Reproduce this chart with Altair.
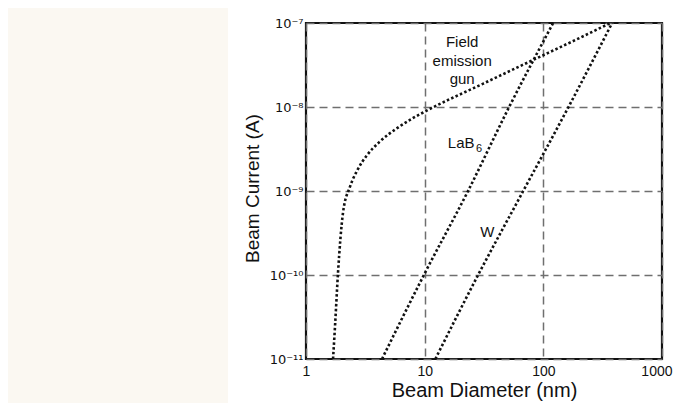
import altair as alt
import pandas as pd

# Field emission gun curve (beam diameter nm, beam current A)
feg_d = [1.69, 1.76, 1.86, 2.05, 2.35, 2.69, 3.27, 4.21, 5.86, 8.0, 10.0, 31.2, 77.6, 205, 367]
feg_i = [1.0e-11, 2.6e-11, 1.05e-10, 5.5e-10, 1.13e-9, 1.74e-9, 2.67e-9, 3.9e-9, 5.6e-9, 7.4e-9, 8.8e-9,
         1.9e-8, 3.5e-8, 6.7e-8, 1.0e-7]
# LaB6 source
lab6_d = [4.37, 9.85, 23.2, 51.5, 121]
lab6_i = [1e-11, 1e-10, 1e-9, 1e-8, 1e-7]
# Tungsten source
w_d = [12.3, 28.2, 67.7, 163, 380]
w_i = [1e-11, 1e-10, 1e-9, 1e-8, 1e-7]

x_ticks = [1, 10, 100, 1000]
y_ticks = [1e-11, 1e-10, 1e-9, 1e-8, 1e-7]
y_tick_labels = ["10\u207b\u00b9\u00b9", "10\u207b\u00b9\u2070", "10\u207b\u2079", "10\u207b\u2078", "10\u207b\u2077"]

label_text = ["Field", "emission", "gun", "LaB", "W"]
label_x = [20.7, 20.7, 20.7, 20.3, 33.7]
label_y = [5.9e-8, 3.5e-8, 2.15e-8, 3.7e-9, 3.25e-10]
sub_text = ["6"]
sub_x = [28.8]
sub_y = [3.2e-9]

rows = []
for name, ds, cs in [("FEG", feg_d, feg_i), ("LaB6", lab6_d, lab6_i), ("W", w_d, w_i)]:
    for k, (d, c) in enumerate(zip(ds, cs)):
        rows.append({"source": name, "d": d, "i": c, "order": k})
curves = pd.DataFrame(rows)
labels = pd.DataFrame({"text": label_text, "d": label_x, "i": label_y})
subs = pd.DataFrame({"text": sub_text, "d": sub_x, "i": sub_y})

ylab_expr = " : ".join(
    f"abs(log(datum.value)/LN10 - ({e})) < 0.01 ? '{t}'" for e, t in zip([-11, -10, -9, -8, -7], y_tick_labels)
) + " : ''"

xscale = alt.Scale(type="log", domain=[1, 1000], nice=False)
yscale = alt.Scale(type="log", domain=[1e-11, 1e-7], nice=False)

xaxis = alt.Axis(values=x_ticks, labelExpr="format(datum.value, 'd')", title="Beam Diameter (nm)",
                 grid=True, gridDash=[8, 5], gridColor="#6f6f6f", gridWidth=1.5, ticks=False, domain=False,
                 labelFontSize=14, labelColor="#111", labelPadding=5, labelFlush=False,
                 labelAlign={"condition": {"test": "datum.value >= 999", "value": "right"}, "value": "center"},
                 labelOffset={"condition": {"test": "datum.value >= 999", "value": 10}, "value": 0},
                 titleFontSize=20, titleFontWeight="normal", titleColor="#111", titlePadding=2)
yaxis = alt.Axis(values=y_ticks, labelExpr=ylab_expr, title="Beam Current (A)",
                 grid=True, gridDash=[8, 5], gridColor="#6f6f6f", gridWidth=1.5, ticks=False, domain=False,
                 labelFont="DejaVu Sans", labelFontSize=13, labelColor="#111", labelPadding=3, labelFlush=False,
                 titleFontSize=19, titleFontWeight="normal", titleColor="#111",
                 titleX=-54, titleY=165, titleAngle=-90, titleAlign="center", titleBaseline="middle")

panel = alt.Chart(pd.DataFrame({"a": [0]})).mark_rect(color="#fbf8f2").encode(
    x=alt.value(-298), x2=alt.value(-78), y=alt.value(-15), y2=alt.value(385)
)

lines = alt.Chart(curves).mark_line(
    color="#111", strokeWidth=2.6, strokeDash=[2.5, 2.3], interpolate="monotone"
).encode(
    x=alt.X("d:Q", scale=xscale, axis=xaxis),
    y=alt.Y("i:Q", scale=yscale, axis=yaxis),
    detail="source:N",
    order="order:Q",
)

texts = alt.Chart(labels).mark_text(fontSize=15, color="#111", align="center", baseline="middle").encode(
    x=alt.X("d:Q", scale=xscale),
    y=alt.Y("i:Q", scale=yscale),
    text="text:N",
)

subtexts = alt.Chart(subs).mark_text(fontSize=11, color="#111", align="center", baseline="middle").encode(
    x=alt.X("d:Q", scale=xscale),
    y=alt.Y("i:Q", scale=yscale),
    text="text:N",
)

chart = alt.layer(panel, lines, texts, subtexts).properties(
    width=356, height=336,
    padding={"left": 298, "top": 15, "right": 11, "bottom": 44},
    autosize=alt.AutoSizeParams(type="none"),
    background="white",
).configure(font="Liberation Sans").configure_view(stroke="#111", strokeWidth=2.2)

chart.save("out.html", embed_options={"renderer": "svg", "actions": False})
